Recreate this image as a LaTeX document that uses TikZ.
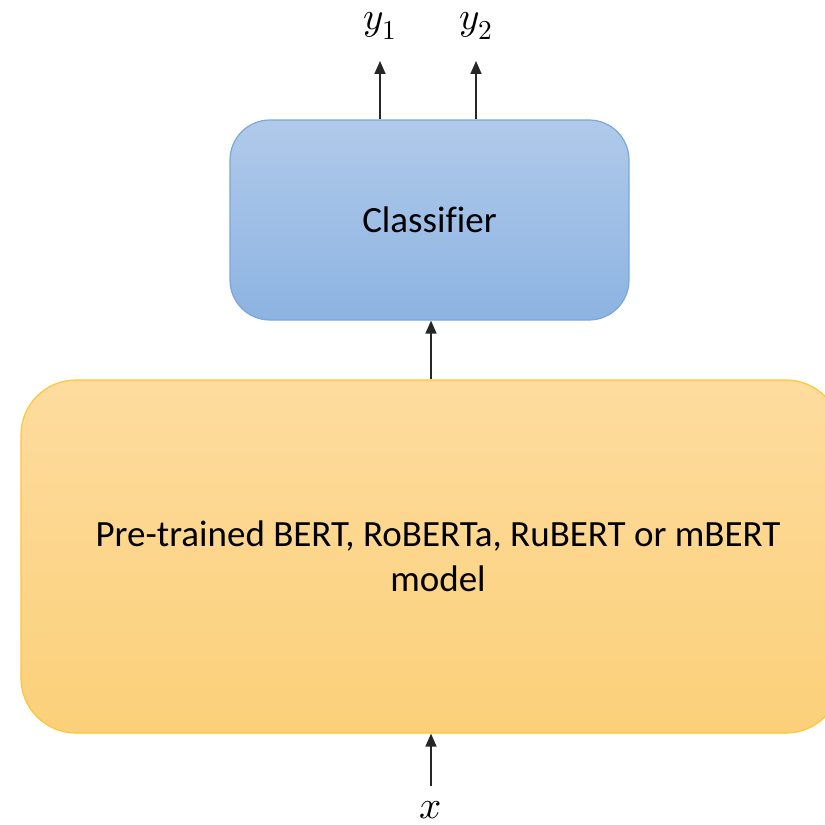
\documentclass[tikz,border=0pt]{standalone}
\usepackage{fontspec}
\setmainfont[Ligatures=NoCommon]{Carlito}
\usepackage{unicode-math}
\setmathfont{Latin Modern Math}
\usetikzlibrary{arrows.meta}

\definecolor{clsTop}{HTML}{B0CAEA}
\definecolor{clsBot}{HTML}{8DB3E2}
\definecolor{clsLine}{HTML}{7AA7DC}
\definecolor{lmTop}{HTML}{FDDC9E}
\definecolor{lmBot}{HTML}{FCD07A}
\definecolor{lmLine}{HTML}{FFC633}

\begin{document}
\begin{tikzpicture}[x=1pt,y=-1pt,>={Triangle[length=13pt,width=11pt]}]
\fontsize{37}{45}\selectfont
\tikzstyle{block}=[line width=1.2pt,align=center]
\tikzstyle{var}=[font=\fontsize{39}{44}\selectfont]
\tikzstyle{flow}=[->,line width=1.6pt,color=black!85]
\useasboundingbox (0,0) rectangle (825,825);
\node[block,rounded corners=40pt,draw=clsLine,top color=clsTop,bottom color=clsBot,
  minimum width=399pt,minimum height=200pt] (CL) at (429.5,220) {Classifier};
\node[block,rounded corners=55pt,draw=lmLine,top color=lmTop,bottom color=lmBot,
  minimum width=820pt,minimum height=353pt] (PT) at (431,556.5)
  {\hspace*{14pt}Pre-trained BERT, RoBERTa, RuBERT or mBERT\\\hspace*{14pt}model};
\node[var] (Y1) at (380,26) {$y_1$};
\node[var] (Y2) at (476,26) {$y_2$};
\node[var] (X) at (431,810) {$x$};
\draw[flow,shorten >=9pt] (CL.north -| Y1) -- (Y1);
\draw[flow,shorten >=9pt] (CL.north -| Y2) -- (Y2);
\draw[flow] (PT.north) -- (PT.north |- CL.south);
\draw[flow,shorten <=3pt] (X) -- (PT.south);
\end{tikzpicture}
\end{document}
